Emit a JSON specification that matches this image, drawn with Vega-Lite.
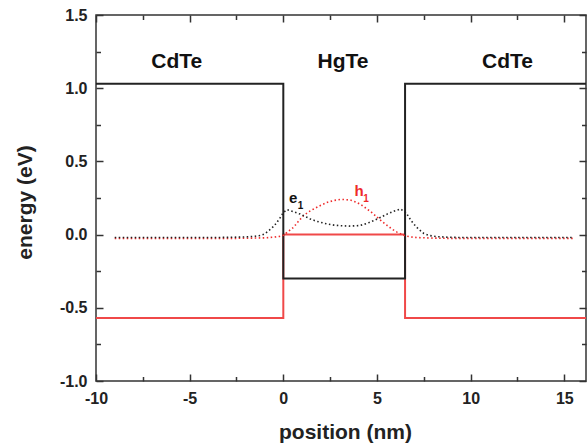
{
  "$schema": "https://vega.github.io/schema/vega-lite/v6.json",
  "width": 490,
  "height": 366,
  "autosize": "none",
  "padding": {"left": 96, "top": 15, "right": 1, "bottom": 65},
  "background": "white",
  "config": {
    "view": {"stroke": "#333333", "strokeWidth": 1.5},
    "axis": {
      "grid": false,
      "domain": false,
      "labelFont": "Liberation Sans",
      "labelFontWeight": "bold",
      "labelFontSize": 16,
      "labelColor": "#222222",
      "titleFont": "Liberation Sans",
      "titleFontWeight": "bold",
      "titleFontSize": 21,
      "titleColor": "#222222",
      "tickColor": "#333333",
      "tickWidth": 1.5,
      "labelFlush": false,
      "labelOverlap": false
    }
  },
  "datasets": {
    "vb": [
      {"i": 1, "x": -10, "y": -0.57},
      {"i": 2, "x": 0, "y": -0.57},
      {"i": 3, "x": 0, "y": 0.0},
      {"i": 4, "x": 6.5, "y": 0.0},
      {"i": 5, "x": 6.5, "y": -0.57},
      {"i": 6, "x": 16.4, "y": -0.57}
    ],
    "cb": [
      {"i": 1, "x": -10, "y": 1.03},
      {"i": 2, "x": 0, "y": 1.03},
      {"i": 3, "x": 0, "y": -0.3},
      {"i": 4, "x": 6.5, "y": -0.3},
      {"i": 5, "x": 6.5, "y": 1.03},
      {"i": 6, "x": 16.4, "y": 1.03}
    ],
    "e1": [
      {"x": -9.0, "y": -0.02}, {"x": -8.0, "y": -0.02}, {"x": -7.0, "y": -0.02},
      {"x": -6.0, "y": -0.02}, {"x": -5.0, "y": -0.02}, {"x": -4.0, "y": -0.02},
      {"x": -3.0, "y": -0.019}, {"x": -2.0, "y": -0.016}, {"x": -1.5, "y": -0.011},
      {"x": -1.2, "y": -0.005}, {"x": -1.0, "y": 0.005}, {"x": -0.7, "y": 0.035},
      {"x": -0.5, "y": 0.058}, {"x": -0.34, "y": 0.084}, {"x": -0.17, "y": 0.115},
      {"x": 0.0, "y": 0.15}, {"x": 0.2, "y": 0.17}, {"x": 0.5, "y": 0.158},
      {"x": 0.9, "y": 0.14}, {"x": 1.2, "y": 0.122}, {"x": 1.44, "y": 0.107},
      {"x": 1.8, "y": 0.09}, {"x": 2.33, "y": 0.073}, {"x": 2.7, "y": 0.065},
      {"x": 3.04, "y": 0.061}, {"x": 3.5, "y": 0.058}, {"x": 4.1, "y": 0.062},
      {"x": 4.5, "y": 0.078}, {"x": 4.82, "y": 0.095}, {"x": 5.2, "y": 0.118},
      {"x": 5.54, "y": 0.14}, {"x": 5.9, "y": 0.16}, {"x": 6.25, "y": 0.175},
      {"x": 6.5, "y": 0.155}, {"x": 6.6, "y": 0.14}, {"x": 6.8, "y": 0.1},
      {"x": 6.96, "y": 0.073}, {"x": 7.2, "y": 0.04}, {"x": 7.5, "y": 0.008},
      {"x": 7.8, "y": -0.006}, {"x": 8.2, "y": -0.014}, {"x": 9.0, "y": -0.019},
      {"x": 10.0, "y": -0.02}, {"x": 11.0, "y": -0.02}, {"x": 12.0, "y": -0.02},
      {"x": 13.0, "y": -0.02}, {"x": 14.0, "y": -0.02}, {"x": 15.5, "y": -0.02}
    ],
    "h1": [
      {"x": -9.0, "y": -0.026}, {"x": -8.0, "y": -0.026}, {"x": -7.0, "y": -0.026},
      {"x": -6.0, "y": -0.026}, {"x": -5.0, "y": -0.026}, {"x": -4.0, "y": -0.026},
      {"x": -3.0, "y": -0.026}, {"x": -2.0, "y": -0.025}, {"x": -1.0, "y": -0.022},
      {"x": -0.52, "y": -0.018}, {"x": -0.2, "y": -0.012}, {"x": 0.0, "y": -0.005},
      {"x": 0.2, "y": 0.015}, {"x": 0.55, "y": 0.05}, {"x": 0.8, "y": 0.09},
      {"x": 1.08, "y": 0.13}, {"x": 1.35, "y": 0.155}, {"x": 1.62, "y": 0.175},
      {"x": 2.0, "y": 0.2}, {"x": 2.33, "y": 0.22}, {"x": 2.7, "y": 0.233},
      {"x": 3.04, "y": 0.24}, {"x": 3.22, "y": 0.24}, {"x": 3.6, "y": 0.235},
      {"x": 3.93, "y": 0.22}, {"x": 4.2, "y": 0.2}, {"x": 4.47, "y": 0.175},
      {"x": 4.75, "y": 0.148}, {"x": 5.0, "y": 0.12}, {"x": 5.27, "y": 0.09},
      {"x": 5.54, "y": 0.063}, {"x": 5.8, "y": 0.038}, {"x": 6.07, "y": 0.017},
      {"x": 6.3, "y": 0.003}, {"x": 6.5, "y": -0.008}, {"x": 6.8, "y": -0.016},
      {"x": 7.1, "y": -0.02}, {"x": 8.0, "y": -0.024}, {"x": 9.0, "y": -0.026},
      {"x": 10.0, "y": -0.026}, {"x": 11.0, "y": -0.026}, {"x": 12.0, "y": -0.026},
      {"x": 13.0, "y": -0.026}, {"x": 14.0, "y": -0.026}, {"x": 15.5, "y": -0.026}
    ],
    "regions": [
      {"label": "CdTe", "x": -5.69, "y": 1.177},
      {"label": "HgTe", "x": 3.19, "y": 1.177},
      {"label": "CdTe", "x": 11.97, "y": 1.177}
    ],
    "statelabels": [
      {"label": "e", "sub": "1", "x": 0.52, "y": 0.25, "xs": 0.92, "ys": 0.198, "kind": "e"},
      {"label": "h", "sub": "1", "x": 4.04, "y": 0.30, "xs": 4.42, "ys": 0.246, "kind": "h"}
    ]
  },
  "resolve": {"scale": {"x": "shared", "y": "shared"}, "axis": {"x": "independent", "y": "independent"}},
  "layer": [
    {
      "data": {"name": "vb"},
      "mark": {"type": "line", "color": "#f04848", "strokeWidth": 2, "clip": true},
      "encoding": {
        "x": {"field": "x", "type": "quantitative", "scale": {"domain": [-10, 16.16], "nice": false, "zero": false},
          "axis": {"orient": "bottom", "values": [-10, -5, 0, 5, 10, 15], "ticks": false, "labelPadding": 9,
            "labelExpr": "replace(format(datum.value, 'd'), '\u2212', '-')",
            "title": "position (nm)", "titleX": 249, "titleY": 51, "titleBaseline": "middle"}},
        "y": {"field": "y", "type": "quantitative", "scale": {"domain": [-1, 1.5], "nice": false, "zero": false},
          "axis": {"orient": "left", "values": [-1, -0.5, 0, 0.5, 1, 1.5], "ticks": false, "labelPadding": 9,
            "labelExpr": "replace(format(datum.value, '.1f'), '\u2212', '-')",
            "title": "energy (eV)", "titleX": -71, "titleY": 187, "titleBaseline": "middle", "titleAngle": -90}},
        "order": {"field": "i", "type": "quantitative"}
      }
    },
    {
      "data": {"name": "cb"},
      "mark": {"type": "line", "color": "#222222", "strokeWidth": 2, "clip": true},
      "encoding": {
        "x": {"field": "x", "type": "quantitative", "scale": {"domain": [-10, 16.16], "nice": false, "zero": false},
          "axis": {"orient": "bottom", "values": [-10, -5, 0, 5, 10, 15], "labels": false, "tickSize": -7, "title": null}},
        "y": {"field": "y", "type": "quantitative", "scale": {"domain": [-1, 1.5], "nice": false, "zero": false},
          "axis": {"orient": "left", "values": [-1, -0.5, 0, 0.5, 1, 1.5], "labels": false, "tickSize": -7, "title": null}},
        "order": {"field": "i", "type": "quantitative"}
      }
    },
    {
      "data": {"name": "h1"},
      "mark": {"type": "line", "color": "#ee2a2a", "strokeWidth": 1.6, "strokeDash": [1.5, 2.5]},
      "encoding": {
        "x": {"field": "x", "type": "quantitative", "scale": {"domain": [-10, 16.16], "nice": false, "zero": false},
          "axis": {"orient": "bottom", "values": [-7.5, -2.5, 2.5, 7.5, 12.5], "labels": false, "tickSize": -4.5, "title": null}},
        "y": {"field": "y", "type": "quantitative", "scale": {"domain": [-1, 1.5], "nice": false, "zero": false},
          "axis": {"orient": "left", "values": [-0.75, -0.25, 0.25, 0.75, 1.25], "labels": false, "tickSize": -4.5, "title": null}}
      }
    },
    {
      "data": {"name": "e1"},
      "mark": {"type": "line", "color": "#222222", "strokeWidth": 1.6, "strokeDash": [1.5, 2.5]},
      "encoding": {
        "x": {"field": "x", "type": "quantitative", "scale": {"domain": [-10, 16.16], "nice": false, "zero": false},
          "axis": {"orient": "top", "values": [-10, -5, 0, 5, 10, 15], "labels": false, "tickSize": -7, "title": null}},
        "y": {"field": "y", "type": "quantitative", "scale": {"domain": [-1, 1.5], "nice": false, "zero": false},
          "axis": {"orient": "right", "values": [-1, -0.5, 0, 0.5, 1, 1.5], "labels": false, "tickSize": -7, "title": null}}
      }
    },
    {
      "data": {"name": "regions"},
      "mark": {"type": "text", "font": "Liberation Sans", "fontWeight": "bold", "fontSize": 21, "color": "#111111", "baseline": "middle", "align": "center"},
      "encoding": {
        "x": {"field": "x", "type": "quantitative", "scale": {"domain": [-10, 16.16], "nice": false, "zero": false},
          "axis": {"orient": "top", "values": [-7.5, -2.5, 2.5, 7.5, 12.5], "labels": false, "tickSize": -4.5, "title": null}},
        "y": {"field": "y", "type": "quantitative", "scale": {"domain": [-1, 1.5], "nice": false, "zero": false},
          "axis": {"orient": "right", "values": [-0.75, -0.25, 0.25, 0.75, 1.25], "labels": false, "tickSize": -4.5, "title": null}},
        "text": {"field": "label"}
      }
    },
    {
      "data": {"name": "statelabels"},
      "mark": {"type": "text", "font": "Liberation Sans", "fontWeight": "bold", "fontSize": 15, "baseline": "middle", "align": "center"},
      "encoding": {
        "x": {"field": "x", "type": "quantitative", "scale": {"domain": [-10, 16.16], "nice": false, "zero": false}, "axis": null},
        "y": {"field": "y", "type": "quantitative", "scale": {"domain": [-1, 1.5], "nice": false, "zero": false}, "axis": null},
        "text": {"field": "label"},
        "color": {"field": "kind", "type": "nominal", "scale": {"domain": ["e", "h"], "range": ["#111111", "#ee2a2a"]}, "legend": null}
      }
    },
    {
      "data": {"name": "statelabels"},
      "mark": {"type": "text", "font": "Liberation Sans", "fontWeight": "bold", "fontSize": 10, "baseline": "middle", "align": "center"},
      "encoding": {
        "x": {"field": "xs", "type": "quantitative", "scale": {"domain": [-10, 16.16], "nice": false, "zero": false}, "axis": null},
        "y": {"field": "ys", "type": "quantitative", "scale": {"domain": [-1, 1.5], "nice": false, "zero": false}, "axis": null},
        "text": {"field": "sub"},
        "color": {"field": "kind", "type": "nominal", "scale": {"domain": ["e", "h"], "range": ["#111111", "#ee2a2a"]}, "legend": null}
      }
    }
  ]
}
